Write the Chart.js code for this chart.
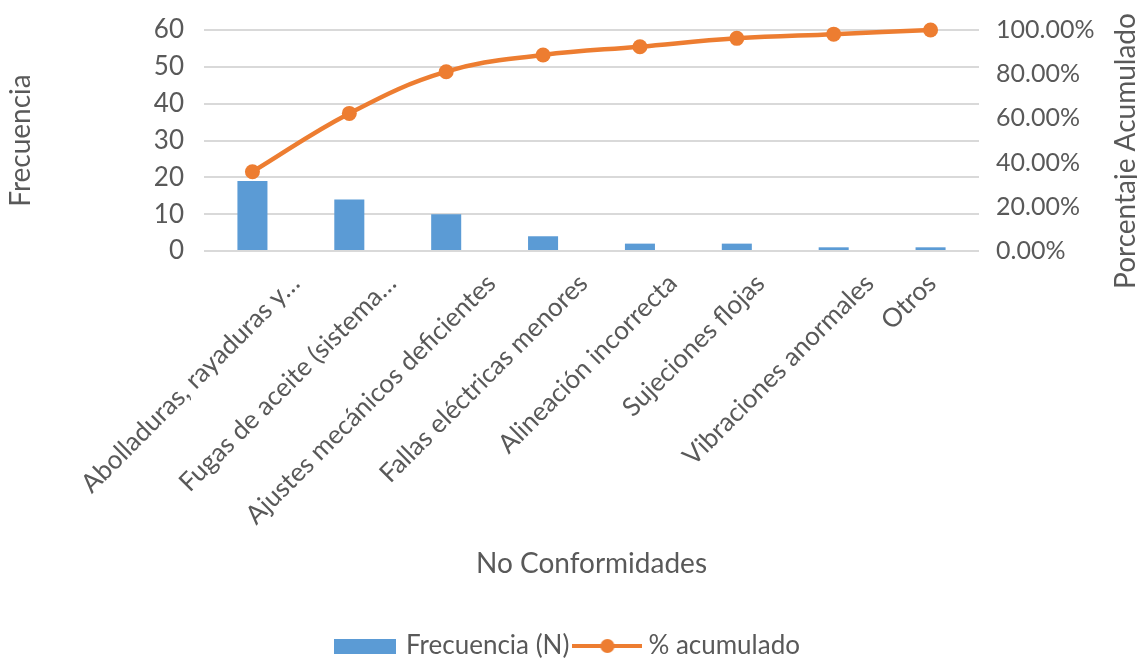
<!DOCTYPE html>
<html lang="es">
<head>
<meta charset="utf-8">
<title>Diagrama de Pareto – No Conformidades</title>
<script src="https://cdn.jsdelivr.net/npm/chart.js@4.4.1/dist/chart.umd.min.js"></script>
<style>
  html, body { margin: 0; padding: 0; background: #ffffff; overflow: hidden; }
  canvas { display: block; }
</style>
</head>
<body>
<canvas id="pareto" width="1137" height="659"></canvas>
<script>
// Categorías de no conformidad (eje X)
const categories = [
  'Abolladuras, rayaduras y…',
  'Fugas de aceite (sistema…',
  'Ajustes mecánicos deficientes',
  'Fallas eléctricas menores',
  'Alineación incorrecta',
  'Sujeciones flojas',
  'Vibraciones anormales',
  'Otros'
];
// Frecuencia observada de cada categoría
const frecuencia = [19, 14, 10, 4, 2, 2, 1, 1];
// Porcentaje acumulado (%)
const acumulado = [35.85, 62.26, 81.13, 88.68, 92.45, 96.23, 98.11, 100.00];

// Textos de ejes y leyenda
const tituloY = 'Frecuencia';
const tituloY1 = 'Porcentaje Acumulado';
const tituloX = 'No Conformidades';
const serieBarras = 'Frecuencia (N)';
const serieLinea = '% acumulado';

const AZUL = '#5B9BD5';
const NARANJA = '#ED7D31';
const GRIS_TEXTO = '#595959';
const GRIS_REJILLA = '#D9D9D9';
const FUENTE = 'Lato';

// Símbolos de la leyenda: rectángulo azul y línea con marcador
function simboloBarra() {
  const c = document.createElement('canvas');
  c.width = 62; c.height = 15;
  const g = c.getContext('2d');
  g.fillStyle = AZUL;
  g.fillRect(0, 0, 62, 15);
  return c;
}
function simboloLinea() {
  const c = document.createElement('canvas');
  c.width = 70; c.height = 16;
  const g = c.getContext('2d');
  g.strokeStyle = NARANJA;
  g.lineWidth = 4;
  g.beginPath(); g.moveTo(0, 8); g.lineTo(70, 8); g.stroke();
  g.fillStyle = NARANJA;
  g.beginPath(); g.arc(35, 8, 7, 0, Math.PI * 2); g.fill();
  return c;
}
const simbolosLeyenda = [simboloLinea(), simboloBarra()];

// Etiquetas de categoría inclinadas 45°
const etiquetasX = {
  id: 'etiquetasX',
  afterDraw(chart) {
    const xs = chart.scales.x;
    const ctx = chart.ctx;
    ctx.save();
    ctx.font = '26px ' + FUENTE;
    ctx.fillStyle = GRIS_TEXTO;
    ctx.textAlign = 'right';
    ctx.textBaseline = 'middle';
    categories.forEach((lab, i) => {
      const w = ctx.measureText(lab).width;
      const desplaza = Math.min(0.18 * w - 10.5, 45);
      const x = xs.getPixelForTick(i) + desplaza;
      const y = xs.top + 28;
      ctx.save();
      ctx.translate(x, y);
      ctx.rotate(-Math.PI / 4);
      ctx.fillText(lab, 0, 0);
      ctx.restore();
    });
    ctx.restore();
  }
};

// Título del eje secundario, leído de abajo hacia arriba
const tituloDerecho = {
  id: 'tituloDerecho',
  afterDraw(chart) {
    const ctx = chart.ctx;
    ctx.save();
    ctx.font = '28px ' + FUENTE;
    ctx.fillStyle = GRIS_TEXTO;
    ctx.textAlign = 'center';
    ctx.textBaseline = 'middle';
    ctx.translate(1126, 151);
    ctx.rotate(-Math.PI / 2);
    ctx.fillText(tituloY1, 0, 0);
    ctx.restore();
  }
};

function ajustarVertical(ancho) {
  return (scale) => {
    scale.width = ancho;
    scale.paddingTop = 0;
    scale.paddingBottom = 0;
  };
}

function dibujar() {
  Chart.defaults.font.family = FUENTE;
  Chart.defaults.color = GRIS_TEXTO;

  new Chart(document.getElementById('pareto'), {
    type: 'bar',
    data: {
      labels: categories,
      datasets: [
        {
          type: 'line',
          label: serieLinea,
          data: acumulado,
          yAxisID: 'y1',
          borderColor: NARANJA,
          backgroundColor: NARANJA,
          borderWidth: 4.5,
          pointStyle: 'circle',
          pointRadius: 7.5,
          pointHoverRadius: 7.5,
          pointBackgroundColor: NARANJA,
          pointBorderWidth: 0,
          tension: 0.4,
          order: 0,
          clip: false
        },
        {
          type: 'bar',
          label: serieBarras,
          data: frecuencia,
          yAxisID: 'y',
          backgroundColor: AZUL,
          borderWidth: 0,
          barPercentage: 0.31,
          categoryPercentage: 1,
          order: 1
        }
      ]
    },
    options: {
      responsive: false,
      animation: false,
      layout: { padding: { top: 30, left: 0, right: 0, bottom: -10 } },
      plugins: {
        tooltip: { enabled: false },
        legend: {
          position: 'bottom',
          reverse: true,
          labels: {
            usePointStyle: true,
            pointStyleWidth: 56,
            boxHeight: 15,
            padding: 10,
            font: { size: 26, family: FUENTE },
            color: GRIS_TEXTO,
            generateLabels(chart) {
              return chart.data.datasets.map((ds, i) => ({
                text: ds.label,
                pointStyle: simbolosLeyenda[i],
                fillStyle: ds.backgroundColor,
                strokeStyle: ds.backgroundColor,
                lineWidth: 0,
                fontColor: GRIS_TEXTO,
                hidden: false,
                datasetIndex: i
              }));
            }
          }
        }
      },
      scales: {
        x: {
          offset: true,
          grid: { display: false, drawTicks: false },
          border: { display: false },
          ticks: { display: false },
          title: {
            display: true,
            text: tituloX,
            color: GRIS_TEXTO,
            font: { size: 28, family: FUENTE },
            padding: { top: 42, bottom: 42 }
          },
          afterFit(scale) { scale.height = 372; }
        },
        y: {
          position: 'left',
          min: 0,
          max: 60,
          ticks: {
            stepSize: 10,
            padding: 20,
            color: GRIS_TEXTO,
            font: { size: 26, family: FUENTE }
          },
          grid: { color: GRIS_REJILLA, lineWidth: 2, drawTicks: false },
          border: { display: false },
          title: {
            display: true,
            text: tituloY,
            color: GRIS_TEXTO,
            font: { size: 28, family: FUENTE },
            padding: { top: 4, bottom: 4 }
          },
          afterFit: ajustarVertical(204)
        },
        y1: {
          position: 'right',
          min: 0,
          max: 100,
          ticks: {
            stepSize: 20,
            padding: 17,
            color: GRIS_TEXTO,
            font: { size: 25, family: FUENTE },
            callback: (v) => v.toFixed(2) + '%'
          },
          grid: { display: false, drawTicks: false },
          border: { display: false },
          title: { display: false },
          afterFit: ajustarVertical(158)
        }
      }
    },
    plugins: [etiquetasX, tituloDerecho]
  });
}

if (document.fonts && document.fonts.load) {
  Promise.all([
    document.fonts.load('26px ' + FUENTE),
    document.fonts.load('28px ' + FUENTE)
  ]).then(dibujar, dibujar);
} else {
  dibujar();
}
</script>
</body>
</html>
